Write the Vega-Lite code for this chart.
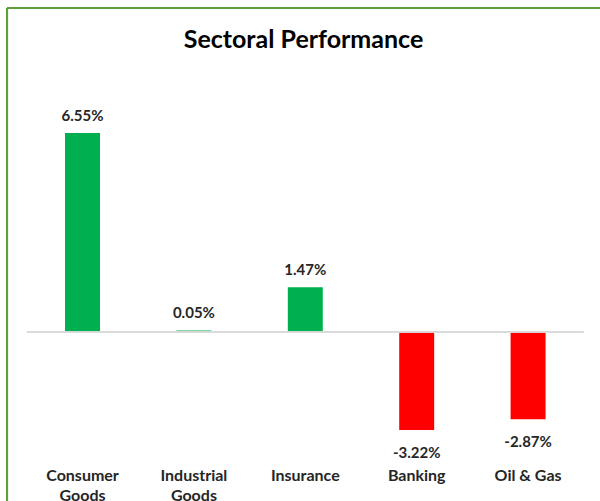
{
  "$schema": "https://vega.github.io/schema/vega-lite/v6.json",
  "width": 593,
  "height": 493,
  "autosize": "none",
  "padding": {"left": 7, "top": 8, "right": 0, "bottom": 0},
  "background": "white",
  "title": {
    "text": "Sectoral Performance",
    "anchor": "middle",
    "frame": "group",
    "offset": -66,
    "baseline": "alphabetic",
    "font": "Lato",
    "fontSize": 25,
    "fontWeight": "bold",
    "color": "#000000"
  },
  "config": {"view": {"stroke": null}},
  "data": {
    "values": [
      {"sector": "Consumer Goods", "v": 0.0655, "label": "6.55%"},
      {"sector": "Industrial Goods", "v": 0.0005, "label": "0.05%"},
      {"sector": "Insurance", "v": 0.0147, "label": "1.47%"},
      {"sector": "Banking", "v": -0.0322, "label": "-3.22%"},
      {"sector": "Oil & Gas", "v": -0.0287, "label": "-2.87%"}
    ]
  },
  "layer": [
    {
      "mark": {"type": "bar"},
      "encoding": {
        "x": {
          "field": "sector",
          "type": "nominal",
          "scale": {
            "domain": ["Consumer Goods", "Industrial Goods", "Insurance", "Banking", "Oil & Gas"],
            "paddingInner": 0.686,
            "paddingOuter": 0.5047,
            "align": 0.516
          },
          "axis": {
            "title": null,
            "domain": false,
            "ticks": false,
            "grid": false,
            "labelAngle": 0,
            "labelFont": "Lato",
            "labelFontSize": 16,
            "labelFontWeight": "bold",
            "labelColor": "#262626",
            "labelPadding": 2,
            "labelLineHeight": 20,
            "labelExpr": "indexof(datum.label, 'Goods') > 0 ? split(datum.label, ' ') : datum.label",
            "offset": -36
          }
        },
        "y": {
          "field": "v",
          "type": "quantitative",
          "scale": {"domain": [-0.05559, 0.10658], "nice": false, "zero": false},
          "axis": null
        },
        "color": {
          "condition": {"test": "datum.v < 0", "value": "#FF0000"},
          "value": "#00B050"
        }
      }
    },
    {
      "mark": {"type": "rule", "color": "#D9D9D9", "strokeWidth": 1},
      "encoding": {
        "x": {"datum": "Consumer Goods", "type": "nominal", "bandPosition": -1.09},
        "x2": {"datum": "Oil & Gas", "bandPosition": 2.09},
        "y": {"datum": 0, "type": "quantitative"}
      }
    },
    {
      "mark": {"type": "rule", "color": "#5E9E3E", "strokeWidth": 2},
      "encoding": {
        "y": {"datum": 0.10658, "type": "quantitative"}
      }
    },
    {
      "mark": {"type": "rule", "color": "#5E9E3E", "strokeWidth": 2},
      "encoding": {
        "x": {"datum": "Consumer Goods", "type": "nominal", "bandPosition": -1.658},
        "y": {"datum": 0.10658, "type": "quantitative"},
        "y2": {"datum": -0.05559}
      }
    },
    {
      "transform": [{"filter": "datum.v >= 0"}],
      "mark": {"type": "text", "dy": -12, "baseline": "alphabetic", "font": "Lato", "fontSize": 15, "fontWeight": "bold", "color": "#262626"},
      "encoding": {
        "x": {"field": "sector", "type": "nominal"},
        "y": {"field": "v", "type": "quantitative"},
        "text": {"field": "label"}
      }
    },
    {
      "transform": [{"filter": "datum.v < 0"}],
      "mark": {"type": "text", "dy": 28, "baseline": "alphabetic", "font": "Lato", "fontSize": 15, "fontWeight": "bold", "color": "#262626"},
      "encoding": {
        "x": {"field": "sector", "type": "nominal"},
        "y": {"field": "v", "type": "quantitative"},
        "text": {"field": "label"}
      }
    }
  ]
}
